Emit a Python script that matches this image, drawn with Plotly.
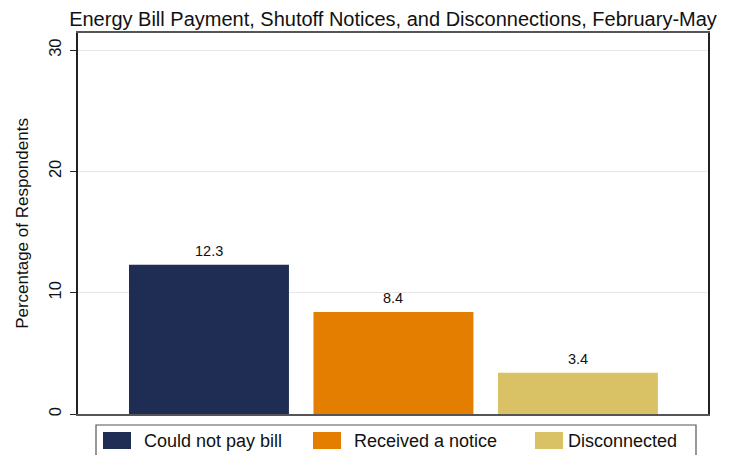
import plotly.graph_objects as go

categories = ["Could not pay bill", "Received a notice", "Disconnected"]
values = [12.3, 8.4, 3.4]
labels = ["12.3", "8.4", "3.4"]
colors = ["#1f2d54", "#e37e00", "#d9c266"]
y_ticks = [0, 10, 20, 30]

W, H = 738, 455
L, R, T, B = 78, 708, 33, 414

def px_x(p):
    return (p - L) / (R - L)

def px_y(p):
    return (B - p) / (B - T)

xs = list(range(len(categories)))
fig = go.Figure()
fig.add_trace(go.Bar(
    x=xs, y=values, width=0.867,
    marker=dict(color=colors, line=dict(width=0)),
    showlegend=False, hoverinfo="skip",
))

for x, v, t in zip(xs, values, labels):
    fig.add_annotation(x=x, y=v, text=t, showarrow=False, yanchor="bottom",
                       yshift=4, font=dict(size=14.5, color="#111"))

# custom legend (Stata style)
fig.add_shape(type="rect", xref="paper", yref="paper",
              x0=px_x(96), x1=px_x(696), y0=px_y(470), y1=px_y(425),
              line=dict(color="#555", width=1.2), fillcolor="white", layer="above")
sw_x = [103, 313, 535]
tx_x = [142, 352, 566]
for i, c in enumerate(categories):
    fig.add_shape(type="rect", xref="paper", yref="paper",
                  x0=px_x(sw_x[i]), x1=px_x(sw_x[i] + 28), y0=px_y(449), y1=px_y(432),
                  line=dict(color=colors[i], width=0), fillcolor=colors[i], layer="above")
    fig.add_annotation(xref="paper", yref="paper", x=px_x(tx_x[i]), y=px_y(441),
                       text=c, showarrow=False, xanchor="left", yanchor="middle",
                       font=dict(size=18, color="#111"))

fig.update_layout(
    width=W, height=H,
    margin=dict(l=L, r=W - R, t=T, b=H - B),
    paper_bgcolor="white", plot_bgcolor="white",
    font=dict(family="Liberation Sans, Arial, sans-serif", color="#111"),
    title=dict(text="Energy Bill Payment, Shutoff Notices, and Disconnections, February-May",
               x=(66 + 720) / 2 / W, xanchor="center", y=1 - 19 / H, yanchor="middle",
               font=dict(size=20, color="#111")),
    showlegend=False,
)
fig.update_xaxes(range=[-0.71, 2.705], showticklabels=False, ticks="",
                 showgrid=False, zeroline=False, showline=True, mirror=True,
                 linecolor="#555", linewidth=1.5)
fig.update_yaxes(range=[0, 31.41], tickvals=y_ticks, ticktext=[str(v) for v in y_ticks],
                 tickangle=-90, ticks="outside", ticklen=6, tickcolor="#222",
                 tickfont=dict(size=16.5, color="#111"), ticklabelstandoff=3,
                 showgrid=True, gridcolor="#e6e6e6", gridwidth=1, zeroline=False,
                 showline=True, mirror=True, linecolor="#222", linewidth=1.5,
                 title=dict(text="Percentage of Respondents", font=dict(size=17, color="#111"),
                            standoff=13))

fig.write_html("out.html")
